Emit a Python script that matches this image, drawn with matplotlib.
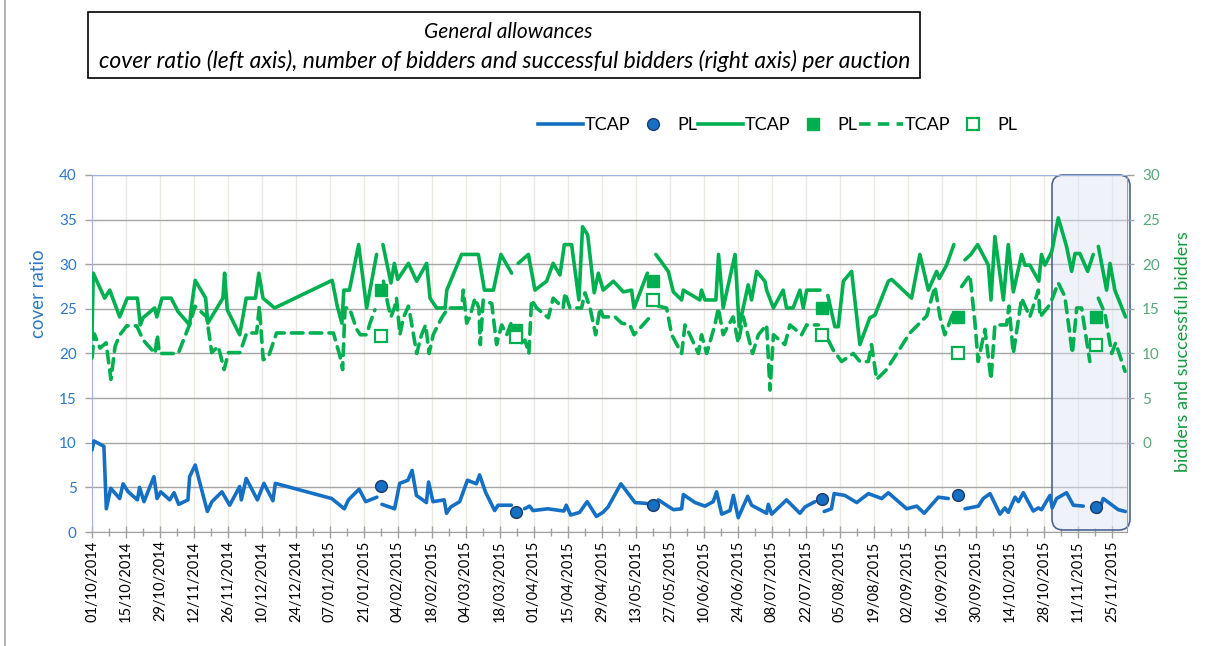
import datetime as dt
import numpy as np
import matplotlib
matplotlib.use('Agg')
import matplotlib.pyplot as plt
from matplotlib.patches import FancyBboxPatch, Rectangle
from matplotlib.lines import Line2D
from matplotlib.ticker import FixedLocator, FuncFormatter
from matplotlib.transforms import IdentityTransform

plt.rcParams['font.family'] = ['Lato', 'DejaVu Sans']

nan = np.nan
START = dt.date(2014, 10, 1)

# x values are days since 01/10/2014; nan = no TCAP auction (PL auction day -> gap in line)
cover_days = [0, 0.8, 4.9, 5.9, 7.7, 11.4, 12.8, 14.9, 18.7, 19.6, 21.4, 25.5, 26.8, 28.3, 32, 33.8,
              35.7, 39.5, 40.2, 42.5, 47.5, 49.4, 53.5, 56.7, 60.8, 61.5, 63.5, 68.1, 70.8, 74.5, 75.5,
              98.7, 103.9, 105.6, 110, 112.7, 117.3, 118.5, 119.4, 124.6, 126.7, 130.1, 131.8, 133.6,
              137.7, 138.6, 140.4, 145, 146, 147.7, 151.4, 154.6, 158.3, 159.6, 162, 165.8, 167.2,
              172.7, 174.6, 178.1, 180.2, 181.6, 187.7, 194.3, 195.3, 197.1, 200.8, 203.9, 207.7,
              210.4, 212.5, 217.8, 223.6, 228.4, 231, 233.2, 239.4, 242.8, 243.5, 248.3, 252.4, 255.8,
              257.2, 259.3, 262.7, 264.1, 266.1, 270, 271.6, 277.8, 278.5, 279.9, 286, 291.5, 293.6,
              297.7, 299.5, 301.5, 304.5, 305.6, 310, 314.9, 319.7, 325.2, 327.9, 331.3, 335.5, 339.6,
              342.7, 348.5, 352.6, 356.6, 359.5, 365, 367, 369.8, 373.9, 375.9, 377.3, 380.1, 381.5,
              383.5, 387.6, 389.7, 391, 394.5, 395.4, 397.2, 401.3, 404.1, 408.2, 413.4, 414.4, 416.4,
              422.6, 425.5]
cover_vals = [9.2, 10.2, 9.6, 2.6, 4.9, 3.75, 5.4, 4.5, 3.6, 5.0, 3.4, 6.2, 3.75, 4.5, 3.6, 4.4,
              3.1, 3.6, 6.2, 7.5, 2.3, 3.4, 4.5, 3.0, 5.1, 3.6, 6.0, 3.6, 5.45, 3.5, 5.45,
              3.75, 2.6, 3.6, 4.8, 3.4, 3.9, nan, 3.1, 2.6, 5.45, 5.8, 6.9, 4.1,
              3.3, 5.6, 3.4, 3.6, 2.1, 2.8, 3.4, 5.8, 5.4, 6.4, 4.5, 2.4, 3.0,
              3.0, nan, 2.6, 2.9, 2.4, 2.6, 2.35, 3.0, 1.9, 2.2, 3.4, 1.75,
              2.2, 2.8, 5.4, 3.3, 3.2, nan, 3.6, 2.5, 2.6, 4.2, 3.3, 2.9, 3.4,
              4.5, 2.0, 2.4, 4.1, 1.6, 4.0, 3.0, 2.1, 3.1, 2.0, 3.6, 2.1, 2.8,
              3.4, nan, 2.3, 2.6, 4.3, 4.1, 3.3, 4.3, 3.75, 4.4, 3.6, 2.6, 2.9,
              2.1, 3.9, 3.75, nan, 2.6, 2.9, 3.75, 4.3, 2.0, 2.7, 2.2, 3.9, 3.4,
              4.4, 2.35, 2.7, 2.5, 4.1, 2.7, 3.75, 4.4, 3.0, 2.9, nan, 2.2, 3.75,
              2.5, 2.3]

bidders_days = [0, 0.5, 5.2, 7.3, 11.4, 14.5, 18.7, 19.9, 21, 25.8, 26.7, 28.8, 32.6, 35.4, 40.2,
                40.9, 42.5, 46.8, 47.7, 53.9, 54.6, 55.7, 60.8, 63.5, 67.3, 68.7, 70.4, 75.2, 98.9,
                101, 102.9, 103.7, 106, 109.8, 113.1, 117.2, 118.6, 119.8, 123.1, 124.5, 125.9, 130.3,
                133.7, 137.8, 139.2, 141.9, 145.4, 146.1, 152.2, 159.1, 161.6, 165.3, 168.4, 172.8,
                174.6, 175.5, 179.7, 182.4, 187.2, 189.9, 192.7, 194.5, 197.5, 200.5, 202, 204.1,
                206.8, 208.5, 210.5, 214.7, 218.8, 222.2, 223.2, 228.7, 231, 232.2, 237.3, 239.4,
                242.8, 243.5, 250.3, 251, 252.4, 256.9, 258, 259.9, 264.8, 266.5, 270.2, 271.6, 273.7,
                277.1, 277.8, 280.6, 284.6, 286, 288.7, 291.5, 292.9, 294.3, 299.8, 300.6, 303, 305.9,
                307.3, 309.4, 312.8, 316.2, 320.3, 322.4, 327.9, 329.3, 337.5, 340.9, 344.4, 347.8,
                348.9, 351.9, 354.9, 356.6, 359.5, 361.9, 364.7, 369.1, 370.2, 371.8, 375.3, 377.3,
                379.4, 382.8, 384.2, 386.2, 389.9, 391, 392.4, 395.2, 397.9, 401.3, 403.4, 404.8,
                406.8, 410, 412.3, 413.4, 414.4, 417.8, 419.2, 421.2, 425.6]
bidders_vals = [12, 19.0, 16.2, 17.1, 14.1, 16.2, 16.2, 13.2, 14.0, 15.1, 14.1, 16.2, 16.2, 14.7, 13.2,
                15.1, 18.2, 16.2, 13.4, 16.2, 19.0, 14.9, 12.1, 16.2, 16.2, 19.0, 16.2, 15.1, 18.2,
                15.3, 13.4, 17.1, 17.1, 22.2, 15.1, 21.1, nan, 22.2, 17.9, 20.1, 18.3, 20.1,
                18.1, 20.1, 16.2, 15.1, 15.1, 17.1, 21.1, 21.1, 17.1, 17.1, 21.1, 19.0,
                nan, 20.1, 21.1, 17.1, 18.1, 20.1, 18.8, 22.2, 22.2, 16.0, 24.2, 23.3,
                16.8, 19.0, 17.1, 18.1, 16.9, 17.1, 15.1, 19.0, nan, 21.1, 19.2, 16.9,
                16.0, 17.1, 16.0, 17.1, 16.0, 16.0, 21.1, 15.1, 21.1, 13.0, 17.7, 16.0, 19.2,
                18.1, 17.1, 15.1, 17.1, 15.1, 15.1, 17.1, 15.1, 17.1, 17.1, nan, 16.5, 13.0,
                13.0, 18.1, 19.2, 11.0, 14.0, 14.3, 18.1, 18.3, 16.2, 21.1, 17.1, 19.2,
                18.4, 19.9, 22.2, nan, 20.5, 21.1, 22.2, 19.9, 16.0, 23.1, 16.0, 22.2,
                16.9, 21.1, 19.9, 19.9, 18.1, 21.1, 19.9, 21.4, 25.2, 22.0, 19.2, 21.2,
                21.2, 19.2, 21.1, nan, 22.0, 17.1, 20.1, 17.1, 14.1]

success_days = [0, 0.95, 3.3, 5.8, 7.8, 9.5, 11.5, 14.3, 18.4, 21.1, 26, 26.9, 27.7, 35.5, 40.4,
                42.4, 47.2, 49.3, 52, 54.4, 56.2, 60.9, 63.7, 67.8, 68.9, 70.5, 72.6, 76, 99.4,
                102.1, 103.2, 104.2, 106, 109, 110.5, 113.1, 114.5, 116.5, 118.8, 120, 122, 123.1,
                124.5, 125.4, 126.8, 128.2, 130.3, 130.9, 133.7, 135.7, 137.4, 138.8, 140.5, 144,
                146.7, 152.2, 152.9, 154.3, 155.6, 157.7, 159.3, 159.9, 161.1, 164.6, 166.6, 168.7,
                170.8, 173.5, 174.6, 176.9, 178.3, 179.9, 181, 183.1, 187.9, 189.9, 194, 194.8,
                196.8, 201.6, 203, 205.1, 207.4, 209.2, 210.5, 215.4, 218.1, 221.5, 223.2, 229.8,
                231, 233.2, 236.6, 238.7, 242.8, 244.2, 246.2, 249.7, 251, 253.1, 256.5, 257.9,
                259.9, 264, 266.1, 268.2, 272, 274.4, 277.8, 279.2, 280.6, 285.3, 287.4, 292.2,
                294.3, 299.1, 300.6, 303.2, 305.2, 308.7, 313.5, 316.2, 319.7, 321, 323.1, 327.2,
                336.8, 343.7, 346.4, 347.1, 349.2, 351.2, 353.3, 355.3, 356.6, 358.1, 361.5, 363.6,
                364.9, 367.7, 370.2, 371.8, 376.6, 377.6, 379.4, 382.8, 386.2, 389.7, 390.4, 394.5,
                397.9, 400.6, 403.7, 405.5, 407.5, 410.9, 413.4, 414.4, 417.1, 419.9, 421.5, 425.4]
success_vals = [9.5, 12.2, 10.6, 11.2, 7.1, 10.8, 12.1, 13.1, 13.1, 11.5, 10.0, 12.1, 10.0, 10.0, 13.4,
                15.3, 14.1, 10.1, 10.8, 8.2, 10.1, 10.1, 12.3, 12.3, 15.3, 9.3, 9.6, 12.3, 12.3,
                9.7, 8.2, 15.1, 15.1, 12.7, 12.1, 12.1, 13.4, 14.9, nan, 18.1, 15.3, 14.1,
                15.1, 16.2, 12.1, 14.0, 15.3, 14.5, 10.0, 12.1, 13.2, 10.0, 12.1, 14.0,
                15.1, 15.1, 17.1, 13.4, 14.1, 16.2, 15.1, 11.0, 16.0, 15.6, 11.0, 13.2,
                12.1, 14.1, nan, 11.2, 11.5, 10.0, 16.0, 15.1, 14.0, 16.2, 15.1, 16.8,
                15.1, 15.1, 16.8, 15.1, 12.1, 15.1, 14.1, 14.1, 13.4, 13.2, 12.1, 14.1,
                nan, 15.3, 15.1, 12.1, 10.0, 13.2, 12.1, 10.0, 12.1, 10.0, 13.2, 15.1,
                12.1, 14.1, 11.2, 14.1, 10.0, 12.1, 13.2, 5.9, 12.1, 11.0, 13.2, 12.1,
                13.2, 13.2, nan, 11.5, 10.4, 9.1, 10.0, 9.1, 9.1, 11.0, 7.1, 8.2,
                12.3, 14.2, 16.8, 17.5, 14.1, 12.1, 13.6, 15.1, nan, 17.5, 18.8, 13.4,
                9.1, 12.7, 7.1, 13.2, 13.2, 15.3, 10.0, 16.2, 14.1, 17.1, 14.1, 15.5,
                17.9, 16.4, 10.0, 15.1, 15.1, 9.1, nan, 16.2, 14.5, 10.0, 11.2, 8.0]

# Polish (PL) auctions
pl_days = [119.0, 174.6, 231.0, 300.6, 356.6, 413.4]
pl_cover = [5.2, 2.2, 3.0, 3.7, 4.1, 2.8]
pl_bidders = [17.1, 12.6, 18.1, 15.1, 14.1, 14.1]
pl_success = [12.0, 11.9, 16.0, 12.1, 10.0, 11.0]

tick_days = list(range(0, 427, 14))

W, H = 1211, 646
blue = '#1570C4'
green = '#00B050'

fig = plt.figure(figsize=(W / 100, H / 100), dpi=100)
ax = fig.add_axes([92 / W, (H - 532) / H, 1035 / W, 357 / H])
ax2 = ax.twinx()

# left axis: cover ratio
ax.set_xlim(0, 426.2)
ax.set_ylim(0, 40)
ax.set_yticks(range(0, 41, 5))
ax.xaxis.set_major_locator(FixedLocator(tick_days))
ax.xaxis.set_minor_locator(FixedLocator([d + 7 for d in tick_days if d + 7 < 426]))
ax.xaxis.set_major_formatter(FuncFormatter(
    lambda x, pos: (START + dt.timedelta(days=int(round(x)))).strftime('%d/%m/%Y')))
ax.tick_params(axis='x', which='major', direction='inout', length=8, width=1, color='#A0A0A0',
               labelrotation=90, labelsize=10.5, labelcolor='black', pad=2)
ax.tick_params(axis='x', which='minor', direction='inout', length=6, width=1, color='#A0A0A0')
ax.tick_params(axis='y', direction='out', length=5, width=1, color='#A0A0A0',
               labelsize=11, labelcolor='#2F78C8', pad=6)
ax.grid(axis='y', color='#A5A5A5', lw=1, zorder=0)
ax.grid(axis='x', which='major', color='#ECEADF', lw=1, zorder=0)
ax.set_axisbelow(True)
for s in ['bottom', 'right']:
    ax.spines[s].set_color('#A0A0A0')
for s in ['top', 'left']:
    ax.spines[s].set_color('#9DB5E0')

ax.plot(cover_days, cover_vals, color=blue, lw=2.6, solid_joinstyle='round',
        solid_capstyle='round', zorder=3)
ax.plot(pl_days, pl_cover, 'o', ms=8.5, mfc=blue, mec='#1F3A66', mew=1, zorder=4)

# right axis: bidders and successful bidders
ax2.set_ylim(-10, 30)
ax2.set_yticks(range(0, 31, 5))
ax2.tick_params(axis='y', direction='out', length=5, width=1, color='#A0A0A0',
                labelsize=11, labelcolor='#5AA77A', pad=6)
for s in ax2.spines.values():
    s.set_visible(False)
ax2.plot(bidders_days, bidders_vals, color=green, lw=2.6, solid_joinstyle='round',
         solid_capstyle='round')
ax2.plot(success_days, success_vals, color=green, lw=2.6, dashes=(3.2, 2.0),
         dash_capstyle='round', dash_joinstyle='round')
ax2.plot(pl_days, pl_bidders, 's', ms=8, mfc=green, mec=green)
ax2.plot(pl_days, pl_success, 's', ms=8, mfc='white', mec=green, mew=1.6)

# highlighted last weeks
box = FancyBboxPatch((1052, H - 530), 78, 355, boxstyle='round,pad=0,rounding_size=11',
                     transform=IdentityTransform(), facecolor='#DCE4F2', alpha=0.45,
                     edgecolor='none', zorder=1.5, clip_on=False)
ax.add_patch(box)
edge = FancyBboxPatch((1052, H - 530), 78, 355, boxstyle='round,pad=0,rounding_size=11',
                      transform=IdentityTransform(), facecolor='none', edgecolor='#4A6590',
                      lw=1.2, zorder=1.6, clip_on=False)
ax.add_patch(edge)

# axis titles
fig.text(38 / W, 1 - 294 / H, 'cover ratio', color='#2F78C8', fontsize=13.5,
         rotation=90, ha='center', va='center')
fig.text(1183 / W, 1 - 352 / H, 'bidders and successful bidders', color='#119A3C',
         fontsize=13, rotation=90, ha='center', va='center')

# title box
fig.add_artist(Rectangle((88 / W, 1 - 78 / H), 832 / W, 66 / H, transform=fig.transFigure,
                         facecolor='white', edgecolor='black', lw=1.2))
fig.text(508 / W, 1 - 32 / H, 'General allowances', fontsize=15, style='italic',
         ha='center', va='center')
fig.text(505 / W, 1 - 61 / H,
         'cover ratio (left axis), number of bidders and successful bidders (right axis) per auction',
         fontsize=16.5, style='italic', ha='center', va='center')

# outer chart border
fig.add_artist(Line2D([5 / W, 5 / W], [0, 1], color='#A6A6A6', lw=1.2,
                      transform=fig.transFigure))

# legend
handles = [
    Line2D([], [], color=blue, lw=2.6),
    Line2D([], [], ls='none', marker='o', ms=8.5, mfc=blue, mec='#1F3A66'),
    Line2D([], [], color=green, lw=2.6),
    Line2D([], [], ls='none', marker='s', ms=8, mfc=green, mec=green),
    Line2D([], [], color=green, lw=2.6, dashes=(3.2, 2.0)),
    Line2D([], [], ls='none', marker='s', ms=8, mfc='white', mec=green, mew=1.6),
]
labels = ['TCAP', 'PL', 'TCAP', 'PL', 'TCAP', 'PL']
fig.legend(handles, labels, ncol=6, loc='center', bbox_to_anchor=(778 / W, 1 - 125 / H),
           frameon=False, fontsize=13, handlelength=2.45, handletextpad=0.12,
           columnspacing=0.05)

fig.savefig('out.png', dpi=100)
